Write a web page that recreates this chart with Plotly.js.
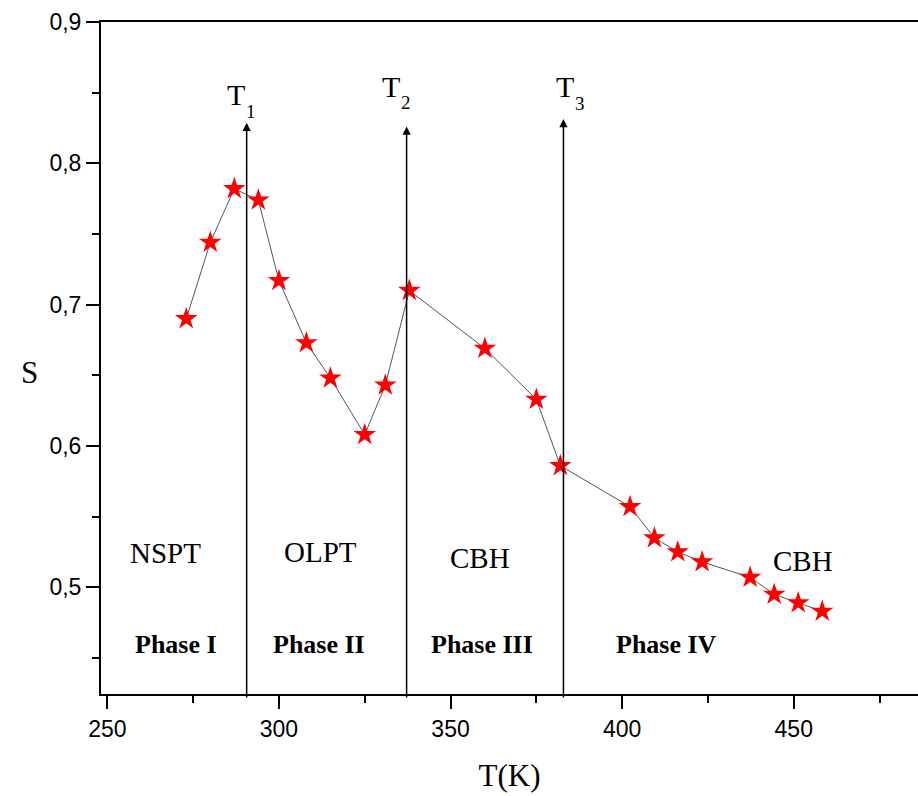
<!DOCTYPE html>
<html>
<head>
<meta charset="utf-8">
<script src="https://cdn.plot.ly/plotly-3.0.1.min.js"></script>
<style>html,body{margin:0;padding:0;background:#fff;}#chart{width:918px;height:796px;}</style>
</head>
<body>
<div id="chart"></div>
<script>
// Data
const temperatures = [273, 280, 287, 294, 300, 308, 315, 325, 331, 338, 360, 375, 382, 402.3, 409.4, 416.2, 423.3, 437.3, 444.3, 451.3, 458.3];
const orderS = [0.690, 0.744, 0.782, 0.774, 0.717, 0.673, 0.648, 0.608, 0.643, 0.710, 0.669, 0.633, 0.586, 0.557, 0.535, 0.525, 0.518, 0.507, 0.495, 0.489, 0.483];

// Transition temperatures (arrows) and their labels
const transitionT = [290.6, 337.2, 382.9];
const transitionTip = [0.8287, 0.826, 0.8313];
const transitionSubs = ['1', '2', '3'];

// Region labels
const mechanismLabels = ['NSPT', 'OLPT', 'CBH', 'CBH'];
const phaseLabels = ['Phase I', 'Phase II', 'Phase III', 'Phase IV'];

const serif = 'Liberation Serif, Times New Roman, serif';
const sans = 'Liberation Sans, Arial, sans-serif';

const trace = {
  x: temperatures,
  y: orderS,
  mode: 'lines+markers',
  type: 'scatter',
  line: {color: '#555555', width: 1},
  marker: {symbol: 'star', size: 17, color: '#ff0000', line: {width: 0}},
  cliponaxis: false,
  hoverinfo: 'x+y'
};

const annotations = [];
// arrows
const arrowBottom = 0.421;
transitionT.forEach((t, i) => {
  annotations.push({
    x: t, y: transitionTip[i], xref: 'x', yref: 'y',
    ax: t, ay: arrowBottom, axref: 'x', ayref: 'y',
    text: '', showarrow: true, arrowhead: 2, arrowsize: 1.1, arrowwidth: 1.5,
    arrowcolor: '#000', standoff: 0, startstandoff: 0
  });
});
// T labels with subscripts (separate texts)
const tLabelPos = [[287.41, 0.8486], [332.66, 0.8542], [383.36, 0.8542]];
const subPos = [[290.12, 0.8365], [335.29, 0.8429], [385.98, 0.8422]];
transitionSubs.forEach((n, i) => {
  annotations.push({x: tLabelPos[i][0], y: tLabelPos[i][1], xref: 'x', yref: 'y', text: 'T', showarrow: false,
    font: {family: serif, size: 30, color: '#000'}, borderpad: 0});
  annotations.push({x: subPos[i][0], y: subPos[i][1], xref: 'x', yref: 'y', text: n, showarrow: false,
    xanchor: 'left', font: {family: serif, size: 19, color: '#000'}, borderpad: 0});
});
// mechanism labels
const mechPos = [[267.0, 0.5244], [312.0, 0.5253], [358.6, 0.5209], [452.7, 0.5183]];
mechanismLabels.forEach((m, i) => {
  annotations.push({x: mechPos[i][0], y: mechPos[i][1], xref: 'x', yref: 'y', text: m, showarrow: false,
    font: {family: serif, size: 29, color: '#000'}});
});
// phase labels
const phasePos = [269.9, 311.8, 359.3, 413.0];
phaseLabels.forEach((p, i) => {
  annotations.push({x: phasePos[i], y: 0.4595, xref: 'x', yref: 'y', text: '<b>' + p + '</b>', showarrow: false,
    font: {family: serif, size: 26, color: '#000'}});
});
// y-axis title, upright
annotations.push({x: -0.1004, y: 0.4777, xref: 'paper', yref: 'paper', text: 'S', showarrow: false,
  font: {family: serif, size: 31, color: '#000'}});

const layout = {
  width: 918, height: 796,
  margin: {l: 101, r: 0, t: 22, b: 102},
  paper_bgcolor: '#fff', plot_bgcolor: '#fff',
  separators: ',.',
  showlegend: false,
  xaxis: {
    range: [248.16, 486.2],
    tickmode: 'linear', tick0: 0, dtick: 50,
    ticks: 'outside', ticklen: 13, tickwidth: 2, tickcolor: '#000',
    minor: {ticks: 'outside', dtick: 25, tick0: 0, ticklen: 7, tickwidth: 2, tickcolor: '#000', showgrid: false},
    showline: true, linewidth: 2, linecolor: '#000', mirror: true,
    showgrid: false, zeroline: false,
    tickfont: {family: sans, size: 23, color: '#000'},
    title: {text: 'T(K)', font: {family: serif, size: 31, color: '#000'}, standoff: 24}
  },
  yaxis: {
    range: [0.4245, 0.9],
    tickmode: 'linear', tick0: 0, dtick: 0.1, tickformat: '.1f',
    ticks: 'outside', ticklen: 13, tickwidth: 2, tickcolor: '#000',
    minor: {ticks: 'outside', dtick: 0.05, tick0: 0, ticklen: 7, tickwidth: 2, tickcolor: '#000', showgrid: false},
    showline: true, linewidth: 2, linecolor: '#000', mirror: false,
    showgrid: false, zeroline: false,
    tickfont: {family: sans, size: 23, color: '#000'}
  },
  annotations: annotations
};

Plotly.newPlot('chart', [trace], layout, {displayModeBar: false, staticPlot: true});
</script>
</body>
</html>
